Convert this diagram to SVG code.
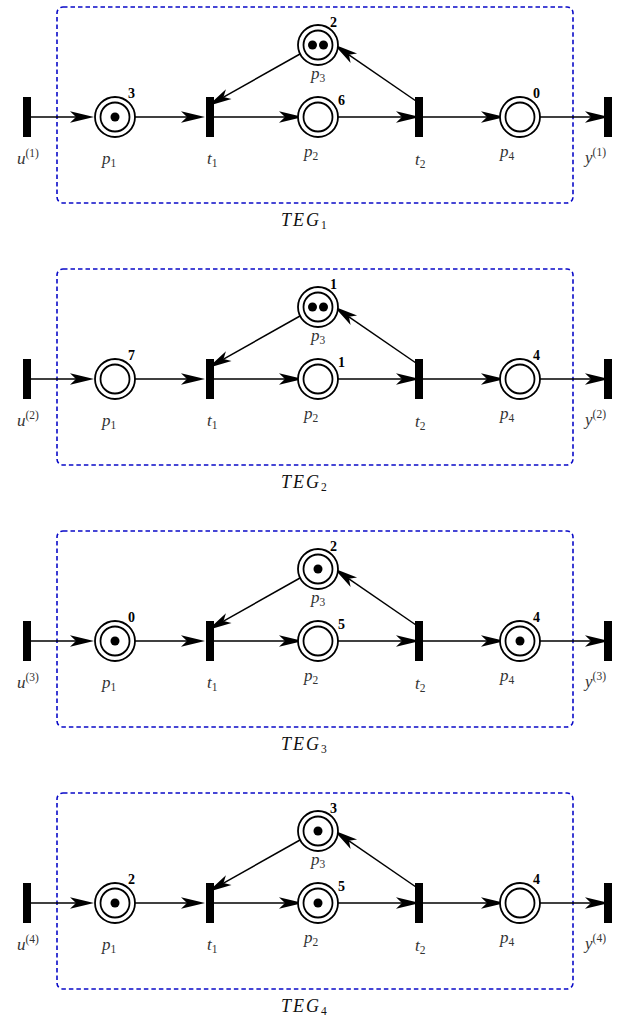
<svg xmlns="http://www.w3.org/2000/svg" width="622" height="1021" viewBox="0 0 622 1021">
  <style>
    .frame { fill: none; stroke: #0a0ac8; stroke-width: 1.6; stroke-dasharray: 4.5 3; }
    .trans { fill: #000; }
    .ring { fill: #fff; stroke: #000; stroke-width: 1.8; }
    .ring2 { fill: none; stroke: #000; stroke-width: 1.8; }
    .tok { fill: #000; }
    .arc { fill: none; stroke: #000; stroke-width: 1.5; marker-end: url(#head); }
    .lbl { font-family: "Liberation Serif", "DejaVu Serif", serif; font-style: italic; font-size: 17px; fill: #333; }
    .idx { font-style: normal; font-size: 11.5px; }
    .num { font-family: "Liberation Serif", "DejaVu Serif", serif; font-weight: bold; font-size: 14px; fill: #000; }
    .title { font-family: "Liberation Serif", "DejaVu Serif", serif; font-style: italic; font-size: 18px; fill: #111; letter-spacing: 2px; }
  </style>
  <defs>
    <!-- stealth arrowhead: notch sits on the line end, tip 12px further on -->
    <marker id="head" markerUnits="userSpaceOnUse" orient="auto" refX="0" refY="0" markerWidth="30" markerHeight="30" viewBox="-6 -6 20 12" overflow="visible">
      <path d="M12,0 L-4,-3.8 L0,0 L-4,3.8 Z" fill="#000"/>
    </marker>
    <!-- one place: outer and inner ring -->
    <g id="place">
      <circle class="ring" r="20"/>
      <circle class="ring2" r="14.5"/>
    </g>
  </defs>

  <!-- ================= TEG 1 ================= -->
  <g id="teg1">
    <rect class="frame" x="57" y="7" width="516" height="196" rx="6"/>
    <g id="teg1-connectors">
      <path class="arc" d="M31,117 H76"/>
      <path class="arc" d="M135,117 H187"/>
      <path class="arc" d="M214,117 H285"/>
      <path class="arc" d="M338,117 H402"/>
      <path class="arc" d="M423,117 H487"/>
      <path class="arc" d="M540,117 H591"/>
      <path class="arc" d="M300,54 L223.5,97.1"/>
      <path class="arc" d="M416,101 L348.9,54.8"/>
    </g>
    <g id="teg1-u"><rect class="trans" x="23" y="97" width="8" height="40"/>
      <text class="lbl" x="17" y="164">u<tspan class="idx" dy="-7">(1)</tspan></text></g>
    <g id="teg1-p1"><use href="#place" x="115" y="117"/><circle class="tok" cx="115" cy="117" r="4.5"/>
      <text class="num" x="128" y="98">3</text>
      <text class="lbl" x="102" y="164">p<tspan class="idx" dy="3">1</tspan></text></g>
    <g id="teg1-t1"><rect class="trans" x="206" y="97" width="8" height="40"/>
      <text class="lbl" x="207" y="164">t<tspan class="idx" dy="3">1</tspan></text></g>
    <g id="teg1-p2"><use href="#place" x="318" y="117"/>
      <text class="num" x="338" y="105">6</text>
      <text class="lbl" x="304" y="157">p<tspan class="idx" dy="3">2</tspan></text></g>
    <g id="teg1-p3"><use href="#place" x="318" y="45"/><circle class="tok" cx="312.5" cy="45" r="4.5"/><circle class="tok" cx="323.5" cy="45" r="4.5"/>
      <text class="num" x="330" y="27">2</text>
      <text class="lbl" x="311" y="79">p<tspan class="idx" dy="3">3</tspan></text></g>
    <g id="teg1-t2"><rect class="trans" x="415" y="97" width="8" height="40"/>
      <text class="lbl" x="415" y="165">t<tspan class="idx" dy="3">2</tspan></text></g>
    <g id="teg1-p4"><use href="#place" x="520" y="117"/>
      <text class="num" x="533" y="98">0</text>
      <text class="lbl" x="500" y="157">p<tspan class="idx" dy="3">4</tspan></text></g>
    <g id="teg1-y"><rect class="trans" x="604" y="97" width="8" height="40"/>
      <text class="lbl" x="585" y="163">y<tspan class="idx" dy="-7">(1)</tspan></text></g>
    <text class="title" x="281" y="226">TEG<tspan class="idx" font-size="12" dy="3">1</tspan></text>
  </g>

  <!-- ================= TEG 2 ================= -->
  <g id="teg2" transform="translate(0,262)">
    <rect class="frame" x="57" y="7" width="516" height="196" rx="6"/>
    <g id="teg2-connectors">
      <path class="arc" d="M31,117 H76"/>
      <path class="arc" d="M135,117 H187"/>
      <path class="arc" d="M214,117 H285"/>
      <path class="arc" d="M338,117 H402"/>
      <path class="arc" d="M423,117 H487"/>
      <path class="arc" d="M540,117 H591"/>
      <path class="arc" d="M300,54 L223.5,97.1"/>
      <path class="arc" d="M416,101 L348.9,54.8"/>
    </g>
    <g id="teg2-u"><rect class="trans" x="23" y="97" width="8" height="40"/>
      <text class="lbl" x="17" y="164">u<tspan class="idx" dy="-7">(2)</tspan></text></g>
    <g id="teg2-p1"><use href="#place" x="115" y="117"/>
      <text class="num" x="128" y="98">7</text>
      <text class="lbl" x="102" y="164">p<tspan class="idx" dy="3">1</tspan></text></g>
    <g id="teg2-t1"><rect class="trans" x="206" y="97" width="8" height="40"/>
      <text class="lbl" x="207" y="164">t<tspan class="idx" dy="3">1</tspan></text></g>
    <g id="teg2-p2"><use href="#place" x="318" y="117"/>
      <text class="num" x="338" y="105">1</text>
      <text class="lbl" x="304" y="157">p<tspan class="idx" dy="3">2</tspan></text></g>
    <g id="teg2-p3"><use href="#place" x="318" y="45"/><circle class="tok" cx="312.5" cy="45" r="4.5"/><circle class="tok" cx="323.5" cy="45" r="4.5"/>
      <text class="num" x="330" y="27">1</text>
      <text class="lbl" x="311" y="79">p<tspan class="idx" dy="3">3</tspan></text></g>
    <g id="teg2-t2"><rect class="trans" x="415" y="97" width="8" height="40"/>
      <text class="lbl" x="415" y="165">t<tspan class="idx" dy="3">2</tspan></text></g>
    <g id="teg2-p4"><use href="#place" x="520" y="117"/>
      <text class="num" x="533" y="98">4</text>
      <text class="lbl" x="500" y="157">p<tspan class="idx" dy="3">4</tspan></text></g>
    <g id="teg2-y"><rect class="trans" x="604" y="97" width="8" height="40"/>
      <text class="lbl" x="585" y="163">y<tspan class="idx" dy="-7">(2)</tspan></text></g>
    <text class="title" x="281" y="226">TEG<tspan class="idx" font-size="12" dy="3">2</tspan></text>
  </g>

  <!-- ================= TEG 3 ================= -->
  <g id="teg3" transform="translate(0,524)">
    <rect class="frame" x="57" y="7" width="516" height="196" rx="6"/>
    <g id="teg3-connectors">
      <path class="arc" d="M31,117 H76"/>
      <path class="arc" d="M135,117 H187"/>
      <path class="arc" d="M214,117 H285"/>
      <path class="arc" d="M338,117 H402"/>
      <path class="arc" d="M423,117 H487"/>
      <path class="arc" d="M540,117 H591"/>
      <path class="arc" d="M300,54 L223.5,97.1"/>
      <path class="arc" d="M416,101 L348.9,54.8"/>
    </g>
    <g id="teg3-u"><rect class="trans" x="23" y="97" width="8" height="40"/>
      <text class="lbl" x="17" y="164">u<tspan class="idx" dy="-7">(3)</tspan></text></g>
    <g id="teg3-p1"><use href="#place" x="115" y="117"/><circle class="tok" cx="115" cy="117" r="4.5"/>
      <text class="num" x="128" y="98">0</text>
      <text class="lbl" x="102" y="164">p<tspan class="idx" dy="3">1</tspan></text></g>
    <g id="teg3-t1"><rect class="trans" x="206" y="97" width="8" height="40"/>
      <text class="lbl" x="207" y="164">t<tspan class="idx" dy="3">1</tspan></text></g>
    <g id="teg3-p2"><use href="#place" x="318" y="117"/>
      <text class="num" x="338" y="105">5</text>
      <text class="lbl" x="304" y="157">p<tspan class="idx" dy="3">2</tspan></text></g>
    <g id="teg3-p3"><use href="#place" x="318" y="45"/><circle class="tok" cx="318" cy="45" r="4.5"/>
      <text class="num" x="330" y="27">2</text>
      <text class="lbl" x="311" y="79">p<tspan class="idx" dy="3">3</tspan></text></g>
    <g id="teg3-t2"><rect class="trans" x="415" y="97" width="8" height="40"/>
      <text class="lbl" x="415" y="165">t<tspan class="idx" dy="3">2</tspan></text></g>
    <g id="teg3-p4"><use href="#place" x="520" y="117"/><circle class="tok" cx="520" cy="117" r="4.5"/>
      <text class="num" x="533" y="98">4</text>
      <text class="lbl" x="500" y="157">p<tspan class="idx" dy="3">4</tspan></text></g>
    <g id="teg3-y"><rect class="trans" x="604" y="97" width="8" height="40"/>
      <text class="lbl" x="585" y="163">y<tspan class="idx" dy="-7">(3)</tspan></text></g>
    <text class="title" x="281" y="226">TEG<tspan class="idx" font-size="12" dy="3">3</tspan></text>
  </g>

  <!-- ================= TEG 4 ================= -->
  <g id="teg4" transform="translate(0,786)">
    <rect class="frame" x="57" y="7" width="516" height="196" rx="6"/>
    <g id="teg4-connectors">
      <path class="arc" d="M31,117 H76"/>
      <path class="arc" d="M135,117 H187"/>
      <path class="arc" d="M214,117 H285"/>
      <path class="arc" d="M338,117 H402"/>
      <path class="arc" d="M423,117 H487"/>
      <path class="arc" d="M540,117 H591"/>
      <path class="arc" d="M300,54 L223.5,97.1"/>
      <path class="arc" d="M416,101 L348.9,54.8"/>
    </g>
    <g id="teg4-u"><rect class="trans" x="23" y="97" width="8" height="40"/>
      <text class="lbl" x="17" y="164">u<tspan class="idx" dy="-7">(4)</tspan></text></g>
    <g id="teg4-p1"><use href="#place" x="115" y="117"/><circle class="tok" cx="115" cy="117" r="4.5"/>
      <text class="num" x="128" y="98">2</text>
      <text class="lbl" x="102" y="164">p<tspan class="idx" dy="3">1</tspan></text></g>
    <g id="teg4-t1"><rect class="trans" x="206" y="97" width="8" height="40"/>
      <text class="lbl" x="207" y="164">t<tspan class="idx" dy="3">1</tspan></text></g>
    <g id="teg4-p2"><use href="#place" x="318" y="117"/><circle class="tok" cx="318" cy="117" r="4.5"/>
      <text class="num" x="338" y="105">5</text>
      <text class="lbl" x="304" y="157">p<tspan class="idx" dy="3">2</tspan></text></g>
    <g id="teg4-p3"><use href="#place" x="318" y="45"/><circle class="tok" cx="318" cy="45" r="4.5"/>
      <text class="num" x="330" y="27">3</text>
      <text class="lbl" x="311" y="79">p<tspan class="idx" dy="3">3</tspan></text></g>
    <g id="teg4-t2"><rect class="trans" x="415" y="97" width="8" height="40"/>
      <text class="lbl" x="415" y="165">t<tspan class="idx" dy="3">2</tspan></text></g>
    <g id="teg4-p4"><use href="#place" x="520" y="117"/>
      <text class="num" x="533" y="98">4</text>
      <text class="lbl" x="500" y="157">p<tspan class="idx" dy="3">4</tspan></text></g>
    <g id="teg4-y"><rect class="trans" x="604" y="97" width="8" height="40"/>
      <text class="lbl" x="585" y="163">y<tspan class="idx" dy="-7">(4)</tspan></text></g>
    <text class="title" x="281" y="226">TEG<tspan class="idx" font-size="12" dy="3">4</tspan></text>
  </g>
</svg>
